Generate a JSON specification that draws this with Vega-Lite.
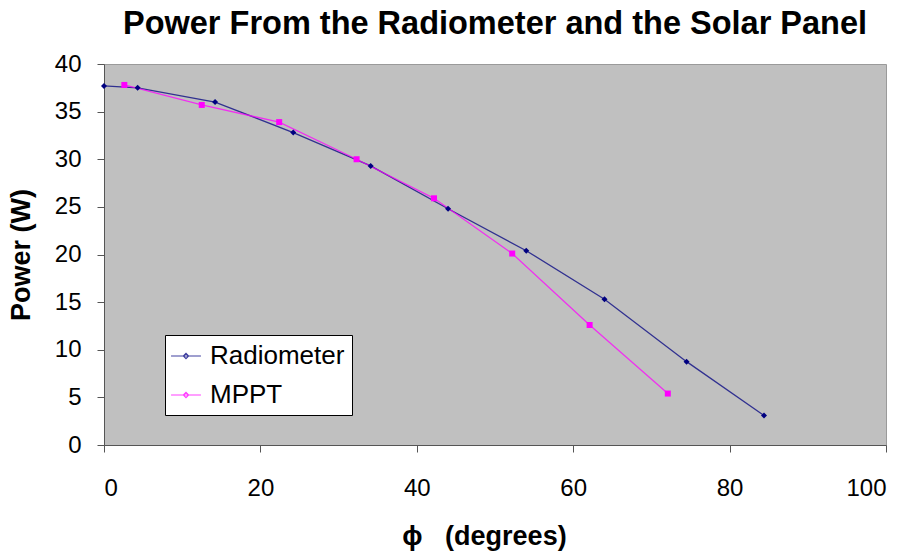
{
  "$schema": "https://vega.github.io/schema/vega-lite/v6.json",
  "width": 782,
  "height": 381,
  "autosize": "none",
  "padding": {"left": 104, "top": 64, "right": 28, "bottom": 108},
  "background": "white",
  "title": {
    "text": "Power From the Radiometer and the Solar Panel",
    "font": "Liberation Sans",
    "fontSize": 32.5,
    "fontWeight": "bold",
    "color": "black",
    "anchor": "middle",
    "offset": 12
  },
  "config": {
    "view": {"fill": "#C0C0C0", "stroke": "#9a9a9a"},
    "axis": {
      "grid": false,
      "domainColor": "#555555",
      "tickColor": "#555555",
      "tickSize": 7,
      "labelFont": "Liberation Sans",
      "labelFontSize": 24,
      "labelColor": "black",
      "titleFont": "Liberation Sans",
      "titleFontSize": 27,
      "titleFontWeight": "bold",
      "titleColor": "black"
    }
  },
  "data": {
    "values": [
      {"phi": 0, "power": 37.7, "series": "Radiometer"},
      {"phi": 4.3, "power": 37.5, "series": "Radiometer"},
      {"phi": 14.2, "power": 36.0, "series": "Radiometer"},
      {"phi": 24.2, "power": 32.8, "series": "Radiometer"},
      {"phi": 34.1, "power": 29.3, "series": "Radiometer"},
      {"phi": 44.0, "power": 24.8, "series": "Radiometer"},
      {"phi": 54.0, "power": 20.4, "series": "Radiometer"},
      {"phi": 64.0, "power": 15.3, "series": "Radiometer"},
      {"phi": 74.5, "power": 8.75, "series": "Radiometer"},
      {"phi": 84.4, "power": 3.1, "series": "Radiometer"},
      {"phi": 2.6, "power": 37.8, "series": "MPPT"},
      {"phi": 12.5, "power": 35.7, "series": "MPPT"},
      {"phi": 22.4, "power": 33.9, "series": "MPPT"},
      {"phi": 32.3, "power": 30.0, "series": "MPPT"},
      {"phi": 42.2, "power": 25.9, "series": "MPPT"},
      {"phi": 52.2, "power": 20.1, "series": "MPPT"},
      {"phi": 62.1, "power": 12.6, "series": "MPPT"},
      {"phi": 72.1, "power": 5.4, "series": "MPPT"}
    ]
  },
  "encoding": {
    "x": {
      "field": "phi", "type": "quantitative",
      "scale": {"domain": [0, 100], "nice": false},
      "axis": {"values": [0, 20, 40, 60, 80, 100], "labelPadding": 24, "title": "ϕ\u00a0\u00a0\u00a0(degrees)", "titlePadding": 23, "titleX": 380}
    },
    "y": {
      "field": "power", "type": "quantitative",
      "scale": {"domain": [0, 40], "nice": false},
      "axis": {"values": [0, 5, 10, 15, 20, 25, 30, 35, 40], "labelPadding": 16, "title": "Power (W)", "titlePadding": 19, "titleFontSize": 27}
    }
  },
  "layer": [
    {
      "mark": {"type": "line", "strokeWidth": 1.3, "opacity": 0.75},
      "encoding": {
        "color": {
          "field": "series", "type": "nominal",
          "scale": {"domain": ["Radiometer", "MPPT"], "range": ["#000080", "#FF00FF"]},
          "legend": {
            "orient": "none",
            "legendX": 61,
            "legendY": 271,
            "title": null,
            "fillColor": "white",
            "strokeColor": "black",
            "padding": 7,
            "labelFont": "Liberation Sans",
            "labelFontSize": 26,
            "labelColor": "black",
            "rowPadding": 12,
            "symbolType": "M-1.15,0H1.15M-0.2,0L0,-0.2L0.2,0L0,0.2Z",
            "symbolSize": 676,
            "symbolStrokeWidth": 1.2,
            "labelOffset": 10,
            "encode": {
              "symbols": {
                "enter": {
                  "fill": {"signal": "scale('color', datum.value)"},
                  "shape": {"signal": "datum.value === 'Radiometer' ? 'M-1.15,0H1.15M-0.2,0L0,-0.2L0.2,0L0,0.2Z' : 'M-1.15,0H1.15M-0.16,-0.16H0.16V0.16H-0.16Z'"}
                },
                "update": {
                  "fill": {"signal": "scale('color', datum.value)"},
                  "stroke": {"signal": "scale('color', datum.value)"},
                  "shape": {"signal": "datum.value === 'Radiometer' ? 'M-1.15,0H1.15M-0.2,0L0,-0.2L0.2,0L0,0.2Z' : 'M-1.15,0H1.15M-0.16,-0.16H0.16V0.16H-0.16Z'"}
                }
              }
            }
          }
        }
      }
    },
    {
      "transform": [{"filter": "datum.series === 'Radiometer'"}],
      "mark": {"type": "point", "filled": true, "opacity": 1, "shape": "diamond", "color": "#000080", "size": 36}
    },
    {
      "transform": [{"filter": "datum.series === 'MPPT'"}],
      "mark": {"type": "point", "filled": true, "opacity": 1, "shape": "square", "color": "#FF00FF", "size": 36}
    }
  ]
}
